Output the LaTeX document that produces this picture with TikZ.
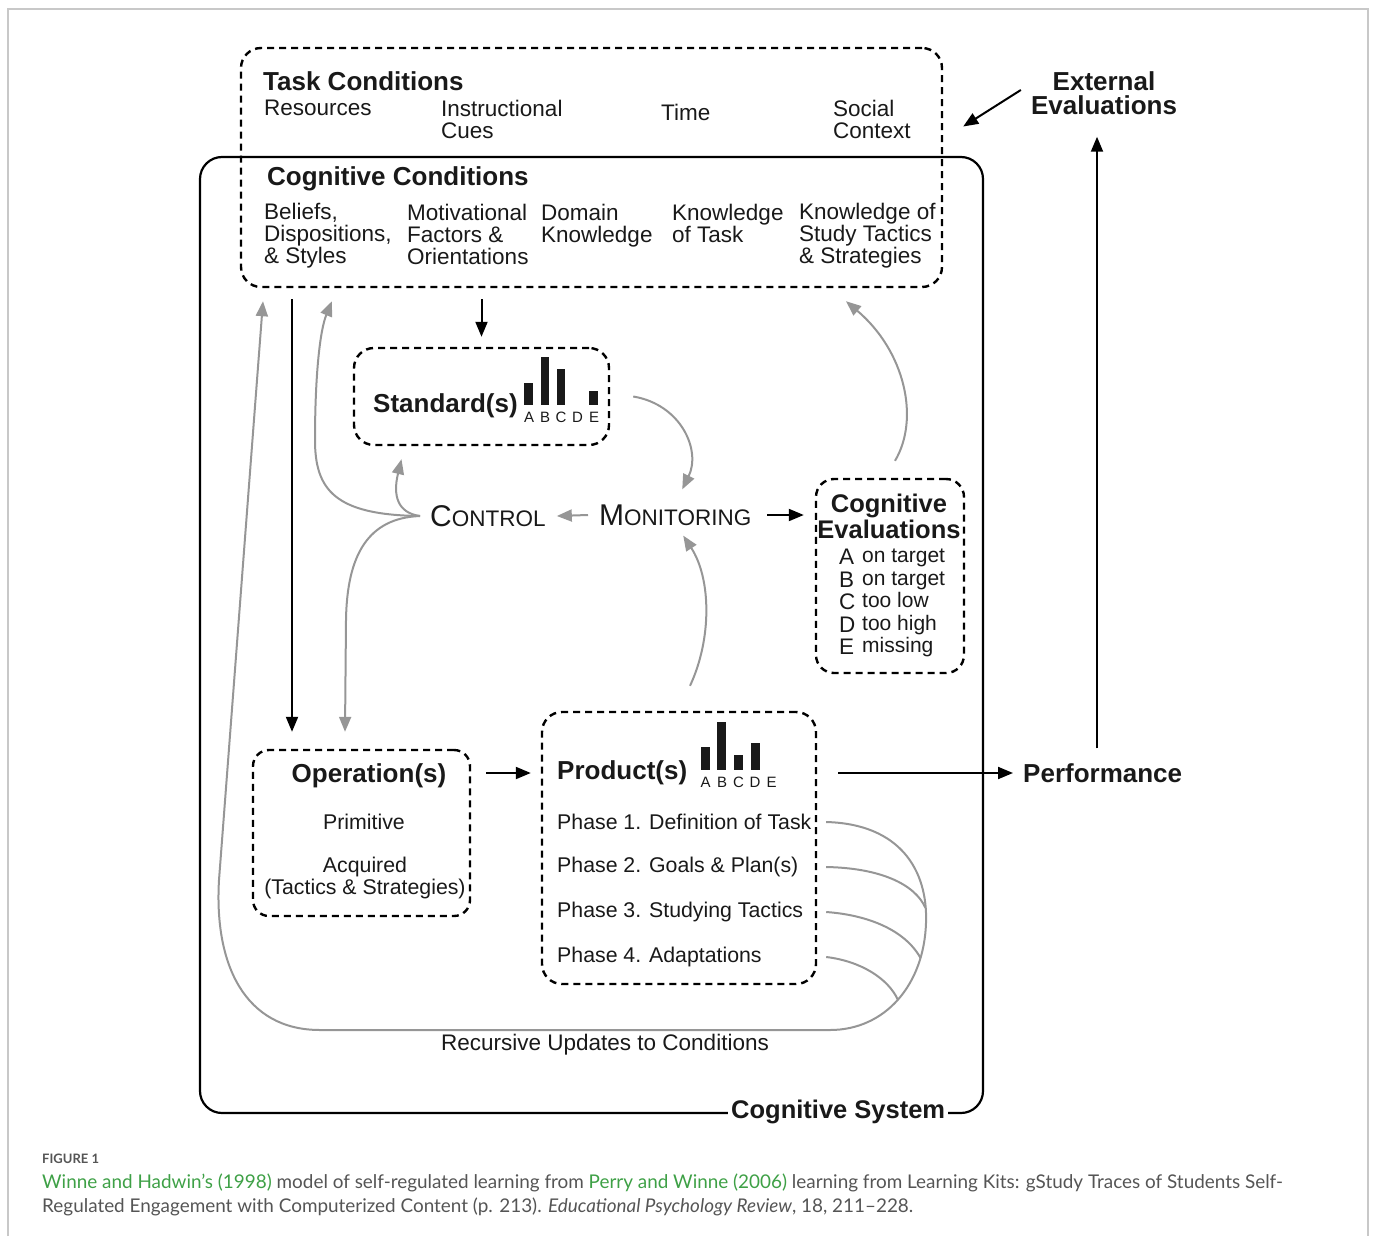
\documentclass[tikz,border=0pt]{standalone}
\usepackage{fontspec}
\setmainfont{Liberation Sans}
\newfontfamily\capfont{Lato}
\usepackage{tikz}
\usetikzlibrary{arrows.meta,calc,positioning}
\definecolor{linegray}{RGB}{150,150,150}
\definecolor{framegray}{RGB}{200,200,200}
\definecolor{capgray}{RGB}{85,85,85}
\definecolor{capgreen}{RGB}{62,160,70}
\definecolor{ink}{RGB}{25,25,25}
\newcommand{\evl}[1]{\makebox[23pt][l]{\raisebox{-2pt}{\fontsize{22.5}{22.5}\selectfont #1}}}
\newcommand{\capinit}{\fontsize{30}{30}\selectfont}
\tikzset{
  dashbox/.style={draw, line width=2.4pt, dash pattern=on 7pt off 5pt, rounded corners=20pt, inner sep=0pt},
  hd/.style={anchor=west, inner sep=0pt, text=ink, font=\fontsize{26}{24}\selectfont\bfseries},
  tx/.style={anchor=west, inner sep=0pt, align=left, text=ink, font=\fontsize{22.5}{22}\selectfont},
  txs/.style={anchor=west, inner sep=0pt, align=left, text=ink, font=\fontsize{21.3}{22.5}\selectfont},
  tick/.style={inner sep=0pt, text=ink, font=\fontsize{15}{15}\selectfont},
  blk/.style={line width=2pt, -{Triangle[length=15pt,width=12pt]}},
  gry/.style={line width=2pt, draw=linegray, -{Triangle[length=15pt,width=12pt]}},
  gryline/.style={line width=2pt, draw=linegray},
}

\begin{document}
\begin{tikzpicture}[x=1pt,y=-1pt]
        \def\sbot{405}
        \def\pbot{770}
        \useasboundingbox (0,0) rectangle (1375,1236);
        % frame
        \draw[framegray, line width=1.3pt] (8,1236) -- (8,9) -- (1368,9) -- (1368,1236);
        % boxes
        \node (cogsys) [draw, line width=2.2pt, rounded corners=22pt, inner sep=0pt, minimum width=783pt, minimum height=956pt] at (591.5,635) {};
        \node (task) [dashbox, minimum width=701pt, minimum height=239pt] at (591.5,167.5) {};
        \node (std) [dashbox, minimum width=255pt, minimum height=97pt] at (481.5,396.5) {};
        \node (ceval) [dashbox, rounded corners=18pt, minimum width=148pt, minimum height=194pt] at (890,576) {};
        \node (oper) [dashbox, rounded corners=16pt, minimum width=217pt, minimum height=166pt] at (361.5,833) {};
        \node (prod) [dashbox, minimum width=274pt, minimum height=272pt] at (679,848) {};
        \node (cogsyslbl) [hd, fill=white, inner xsep=3pt, font=\fontsize{25.5}{24}\selectfont\bfseries] at (728,1112) {Cognitive System};
        % task and cognitive conditions
        \node (taskhd) [hd] at (263,81) {Task Conditions};
        \node (res) [tx] at (264,108) {Resources};
        \node (cues) [tx] at (441,119) {Instructional\\Cues};
        \node (time) [tx] at (661,112) {Time};
        \node (soc) [tx] at (833,119) {Social\\Context};
        \node (coghd) [hd] at (267,179) {Cognitive Conditions};
        \node (beli) [tx] at (264,236) {Beliefs,\\Dispositions,\\\& Styles};
        \node (moti) [tx] at (407,234) {Motivational\\Factors \&\\Orientations};
        \node (dom) [tx] at (541,226) {Domain\\Knowledge};
        \node (kntask) [tx] at (672,223) {Knowledge\\of Task};
        \node (kntac) [tx] at (799,236) {Knowledge of\\Study Tactics\\\& Strategies};
        % outside
        \node (extev) [hd, align=center, anchor=center] at (1104,93) {External\\Evaluations};
        \node (perf) [hd] at (1023,773) {Performance};
        % standards
        \node (stdname) [hd] at (373,406) {Standard(s)};
        \fill[ink] (524.2,383) rectangle (532.8,\sbot);
        \fill[ink] (540.5,357) rectangle (549.1,\sbot);
        \fill[ink] (556.8,369) rectangle (565.4,\sbot);
        \fill[ink] (589.4,391) rectangle (598.0,\sbot);
        \node (sA) [tick] at (529,417) {A};
        \node (sB) [tick] at (545,417) {B};
        \node (sC) [tick] at (561,417) {C};
        \node (sD) [tick] at (577.5,417) {D};
        \node (sE) [tick] at (594,417) {E};
        % control and monitoring
        \node (ctrl) [tx] at (430,516) {{\capinit C}ONTROL};
        \node (moni) [tx] at (599,515) {{\capinit M}ONITORING};
        % cognitive evaluations
        \node (cevname) [hd, align=center, anchor=center, font=\fontsize{25.5}{26}\selectfont\bfseries] at (889,516) {Cognitive\\Evaluations};
        \node (cevlist) [txs, font=\fontsize{21}{22.5}\selectfont] at (839,603) {\evl{A}on target\\\evl{B}on target\\\evl{C}too low\\\evl{D}too high\\\evl{E}missing};
        % operations
        \node (opname) [hd, anchor=center] at (369,776) {Operation(s)};
        \node (prim) [txs, anchor=center] at (364,822) {Primitive};
        \node (acq) [txs, align=center, anchor=center] at (365,878) {Acquired\\(Tactics \& Strategies)};
        % products
        \node (prodname) [hd] at (557,773) {Product(s)};
        \fill[ink] (701,747) rectangle (710,\pbot);
        \fill[ink] (716.5,722) rectangle (725.5,\pbot);
        \fill[ink] (734,755) rectangle (743,\pbot);
        \fill[ink] (750.5,743) rectangle (759.5,\pbot);
        \node (pA) [tick] at (705.5,782) {A};
        \node (pB) [tick] at (722,782) {B};
        \node (pC) [tick] at (738.5,782) {C};
        \node (pD) [tick] at (755,782) {D};
        \node (pE) [tick] at (771.5,782) {E};
        \node (ph1) [txs] at (557,822) {Phase 1. Definition of Task};
        \node (ph2) [txs] at (557,867) {Phase 2. Goals \& Plan(s)};
        \node (ph3) [txs] at (557,912) {Phase 3. Studying Tactics};
        \node (ph4) [txs] at (557,957) {Phase 4. Adaptations};
        \node (recur) [tx, anchor=center] at (605,1045) {Recursive Updates to Conditions};
        % black arrows
        \draw[blk] ([xshift=-10pt,yshift=3pt]extev.west) -- ([xshift=20pt,yshift=41pt]task.east);
        \draw[blk] ([xshift=-7pt,yshift=15pt]perf.north -| extev.south) -- ([xshift=-7pt,yshift=-22pt]extev.south);
        \draw[blk] ([xshift=21pt]prod.east |- perf) -- ([xshift=-10pt]perf.west);
        \draw[blk] ([xshift=15pt]oper.east |- prodname) -- ([xshift=-10pt]prod.west |- prodname);
        \draw[blk] ([yshift=-11pt]task.south -| 292,0) -- ([yshift=17pt]oper.north -| 292,0);
        \draw[blk] ([yshift=-11pt]task.south -| std.north) -- ([yshift=10pt]std.north);
        \draw[blk] ([xshift=16pt]moni.east) -- ([xshift=-11pt]ceval.west |- moni);
        % gray arrows
        \draw[gry] ([xshift=-11pt]moni.west) -- ([xshift=11pt]ctrl.east);
        \draw[gry] ([xshift=23pt]std.east) .. controls +(48,8) and +(19,-39) .. ([xshift=7pt,yshift=15pt]moni.north);
        \draw[gry] ([xshift=11pt,yshift=25pt]prod.north) .. controls +(22,-47) and +(28,43) .. ([xshift=8pt,yshift=-10pt]moni.south);
        \draw[gry] ([xshift=5pt,yshift=17pt]ceval.north) .. controls +(25,-42) and +(59,50) .. ([yshift=-13pt]task.south -| 846,0);
        \coordinate (fan) at ([xshift=-10pt]ctrl.west);
        \draw[gry] (fan) .. controls +(-22,-3) and +(-9,37) .. ([xshift=-80pt,yshift=-13pt]std.south);
        \draw[gry] (fan) .. controls (335,515) and (315,490) .. (315,440) .. controls (315,375) and (320,330) .. ([yshift=-13pt]task.south -| 332,0);
        \draw[gry] (fan) .. controls (368,518) and (347,555) .. (346,620) -- ([yshift=17pt]oper.north -| 345,0);
        % recursive updates
        \draw[gry] ([xshift=9pt]prod.east |- ph1) .. controls (900,824) and (928,870) .. (926,923) .. controls (924,985) and (885,1030) .. (830,1030) -- (320,1030) .. controls (245,1030) and (214,965) .. (219,880) -- ([yshift=-13pt]task.south -| 263,0);
        \draw[gryline] ([xshift=9pt]prod.east |- ph2) .. controls (880,868) and (915,884) .. (925.5,908);
        \draw[gryline] ([xshift=9pt]prod.east |- ph3) .. controls (868,915) and (905,930) .. (920.5,958);
        \draw[gryline] ([xshift=9pt]prod.east |- ph4) .. controls (860,961) and (888,978) .. (898,1000);
        % caption
        \node (fig) [anchor=west, inner sep=0pt, text=capgray, font=\capfont\fontsize{13}{13}\selectfont\bfseries] at (42,1159) {FIGURE 1};
        \node (capt) [anchor=west, inner sep=0pt, align=left, text=capgray, font=\capfont\fontsize{18.9}{24}\selectfont] at (42,1195) {\textcolor{capgreen}{Winne and Hadwin’s (1998)} model of self-regulated learning from \textcolor{capgreen}{Perry and Winne (2006)} learning from Learning Kits: gStudy Traces of Students Self-\\Regulated Engagement with Computerized Content (p. 213). \textit{Educational Psychology Review}, 18, 211–228.};
\end{tikzpicture}
\end{document}
